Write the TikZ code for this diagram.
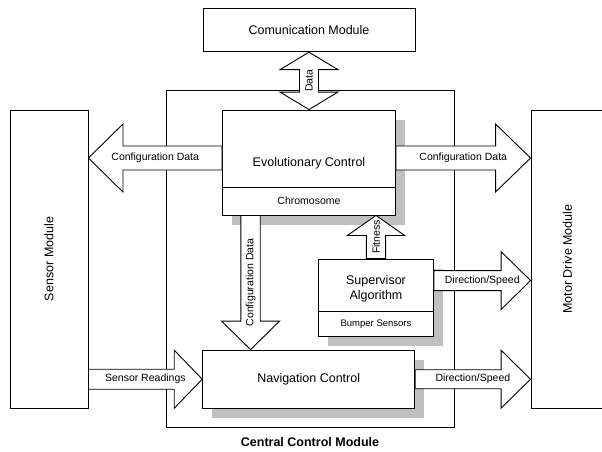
\documentclass[tikz,border=0pt]{standalone}
\usepackage{fontspec}
\setmainfont{Liberation Sans}
\usetikzlibrary{calc,positioning,shadows}
\newcommand{\bigsize}{\fontsize{12.5}{15}\selectfont}
\newcommand{\smallsize}{\fontsize{10.5}{12.5}\selectfont}
\tikzset{
  module box/.style={draw,fill=white,line width=.9pt,inner sep=0pt},
  shadowed/.style={drop shadow={shadow xshift=9.5pt,shadow yshift=-9.5pt,fill=black!25,opacity=1}},
  block arrow/.style={draw,fill=white,line width=.9pt,line join=miter},
  box label/.style={font=\bigsize,inner sep=1pt},
  arrow label/.style={font=\smallsize,inner sep=1pt},
  part line/.style={line width=.9pt}
}
\newcommand{\BlockArrow}[7][]{%
  \coordinate (ba base) at ($(#3)!#6!(#2)$);
  \draw[block arrow] ($(#2)!#4!90:(#3)$) -- ($(ba base)!#4!90:(#3)$)
    -- ($(ba base)!#5!90:(#3)$) -- (#3) -- ($(ba base)!#5!-90:(#3)$)
    -- ($(ba base)!#4!-90:(#3)$) -- ($(#2)!#4!-90:(#3)$) -- cycle;
  \path (#2) -- node[arrow label,#1] {#7} (#3);
}
\newcommand{\DoubleBlockArrow}[7][]{%
  \coordinate (ba a) at ($(#2)!#6!(#3)$);
  \coordinate (ba b) at ($(#3)!#6!(#2)$);
  \draw[block arrow] (#2) -- ($(ba a)!#5!90:(#3)$) -- ($(ba a)!#4!90:(#3)$)
    -- ($(ba b)!#4!90:(#3)$) -- ($(ba b)!#5!90:(#3)$) -- (#3)
    -- ($(ba b)!#5!-90:(#3)$) -- ($(ba b)!#4!-90:(#3)$)
    -- ($(ba a)!#4!-90:(#3)$) -- ($(ba a)!#5!-90:(#3)$) -- cycle;
  \path (#2) -- node[arrow label,#1] {#7} (#3);
}

\begin{document}
\begin{tikzpicture}[x=1pt,y=-1pt]
  \useasboundingbox (0,0) rectangle (602,451);

  \node[module box,minimum width=288pt,minimum height=337pt] (ccm) at (310,258.5) {};
  \node[box label,font=\bigsize\bfseries,below=9pt of ccm] (ccm-name) {Central Control Module};

  \node[module box,box label,minimum width=212pt,minimum height=43.4pt] (comm) at (309,30) {Comunication Module};
  \node[module box,minimum width=78pt,minimum height=298pt,
        label={[box label,rotate=90,name=sensor-name]center:Sensor Module}] (sensor) at (49,259) {};
  \node[module box,minimum width=73pt,minimum height=298pt,
        label={[box label,rotate=90,name=motor-name]center:Motor Drive Module}] (motor) at (567.5,259) {};

  \node[module box,shadowed,minimum width=173pt,minimum height=105pt] (evo) at (309,162.5) {};
  \draw[part line] (evo.west |- 0,187) -- (evo.east |- 0,187);
  \node[box label] (evo-name) at (309,163) {Evolutionary Control};
  \node[arrow label] (evo-chrom) at (309,201) {Chromosome};

  \node[module box,shadowed,minimum width=115pt,minimum height=77pt] (sup) at (376,297.5) {};
  \draw[part line] (sup.west |- 0,311.7) -- (sup.east |- 0,311.7);
  \node[box label,align=center] (sup-name) at (376,288.5) {Supervisor\\Algorithm};
  \node[arrow label,font=\fontsize{9.5}{11}\selectfont] (sup-bump) at (376,324) {Bumper Sensors};

  \node[module box,shadowed,box label,minimum width=212pt,minimum height=58.3pt] (nav) at (308.7,379.2) {Navigation Control};

  \DoubleBlockArrow[name=data-text,rotate=90]{comm.south}{evo.north}{9.5pt}{29pt}{17.5pt}{Data}

  \coordinate (cfgL) at ($(evo.west)+(0,-4.5)$);
  \coordinate (cfgL-end) at (sensor.east |- cfgL);
  \BlockArrow[name=cfgL-text]{cfgL}{cfgL-end}{12pt}{34pt}{34.5pt}{Configuration Data}
  \coordinate (cfgR) at ($(evo.east)+(0,-4.5)$);
  \coordinate (cfgR-end) at (motor.west |- cfgR);
  \BlockArrow[name=cfgR-text]{cfgR}{cfgR-end}{12pt}{34pt}{35pt}{Configuration Data}
  \coordinate (cfgD) at ($(evo.south west)+(28.5,0)$);
  \coordinate (cfgD-end) at (cfgD |- nav.north);
  \BlockArrow[name=cfgD-text,rotate=90]{cfgD}{cfgD-end}{9.7pt}{29pt}{28.5pt}{Configuration Data}
  \coordinate (fit-end) at (sup.north |- evo.south);
  \BlockArrow[name=fit-text,rotate=90]{sup.north}{fit-end}{9.6pt}{28.6pt}{20pt}{Fitness}
  \coordinate (dirS) at ($(sup.north east)+(0,22)$);
  \coordinate (dirS-end) at (motor.west |- dirS);
  \BlockArrow[name=dirS-text]{dirS}{dirS-end}{10pt}{29pt}{29.5pt}{Direction/Speed}
  \coordinate (dirN-end) at (motor.west |- nav.east);
  \BlockArrow[name=dirN-text]{nav.east}{dirN-end}{9.5pt}{29pt}{29.5pt}{Direction/Speed}
  \coordinate (read) at (sensor.east |- nav.west);
  \BlockArrow[name=read-text]{read}{nav.west}{10pt}{29pt}{28pt}{Sensor Readings}
\end{tikzpicture}
\end{document}
